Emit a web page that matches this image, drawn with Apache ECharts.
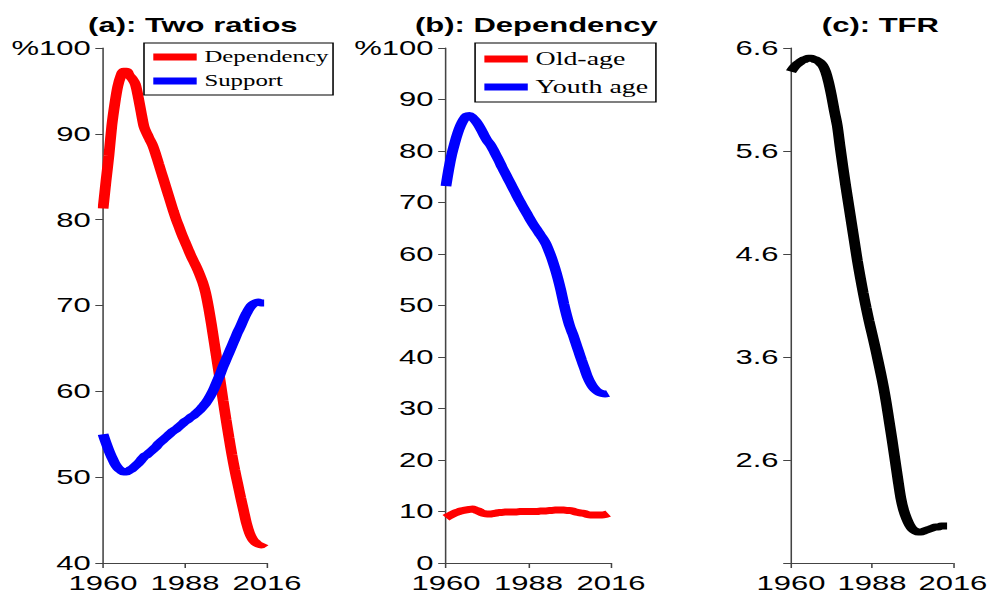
<!DOCTYPE html>
<html>
<head>
<meta charset="utf-8">
<script src="https://cdn.jsdelivr.net/npm/echarts@6/dist/echarts.min.js"></script>
<style>
  html, body { margin: 0; padding: 0; background: #fff; overflow: hidden; }
  /* the original figure is stretched horizontally, so draw narrow and stretch */
  #chart { width: 640px; height: 596px; transform: scaleX(1.55); transform-origin: 0 0; }
</style>
</head>
<body>
<div id="chart"></div>
<script>
const years = [
  1960, 1961, 1962, 1963, 1964, 1965, 1966, 1967, 1968, 1969,
  1970, 1971, 1972, 1973, 1974, 1975, 1976, 1977, 1978, 1979,
  1980, 1981, 1982, 1983, 1984, 1985, 1986, 1987, 1988, 1989,
  1990, 1991, 1992, 1993, 1994, 1995, 1996, 1997, 1998, 1999,
  2000, 2001, 2002, 2003, 2004, 2005, 2006, 2007, 2008, 2009,
  2010, 2011, 2012, 2013, 2014, 2015
]

// (a) total dependency ratio and support ratio, %
const dependency = [
  81.3, 84.5, 87.5, 91.0, 93.5, 95.5, 96.7, 97.3, 97.3, 96.8,
  96.4, 95.8, 94.3, 92.5, 90.8, 90.0, 89.3, 88.6, 87.6, 86.5,
  85.4, 84.3, 83.2, 82.1, 81.0, 80.0, 79.1, 78.2, 77.4, 76.6,
  75.8, 75.1, 74.4, 73.6, 72.7, 71.5, 69.8, 67.8, 65.6, 63.4,
  61.2, 58.9, 56.7, 54.6, 52.6, 50.8, 49.2, 47.6, 46.1, 44.6,
  43.5, 42.8, 42.4, 42.2, 42.1, 42.3
]
const support = [
  55.0, 54.0, 53.1, 52.3, 51.6, 51.1, 50.8, 50.6, 50.6, 50.8,
  51.0, 51.3, 51.6, 52.0, 52.4, 52.6, 52.9, 53.2, 53.5, 53.9,
  54.2, 54.5, 54.8, 55.1, 55.4, 55.6, 55.9, 56.2, 56.5, 56.7,
  57.0, 57.2, 57.5, 57.8, 58.2, 58.6, 59.1, 59.7, 60.4, 61.2,
  62.0, 62.9, 63.7, 64.5, 65.3, 66.1, 66.9, 67.6, 68.4, 69.1,
  69.7, 70.1, 70.3, 70.4, 70.3, 70.3
]

// (b) old-age and youth dependency, %
const oldAge = [
  8.8, 9.1, 9.4, 9.7, 9.9, 10.1, 10.2, 10.3, 10.4, 10.5,
  10.3, 10.1, 9.8, 9.6, 9.5, 9.5, 9.6, 9.7, 9.8, 9.8,
  9.9, 9.9, 9.9, 9.9, 9.9, 10.0, 10.0, 10.0, 10.0, 10.0,
  10.0, 10.0, 10.1, 10.1, 10.1, 10.2, 10.2, 10.3, 10.3, 10.3,
  10.3, 10.2, 10.2, 10.1, 9.9, 9.8, 9.7, 9.6, 9.4, 9.3,
  9.3, 9.3, 9.3, 9.3, 9.4, 9.6
]
const youth = [
  73.2, 76.6, 79.4, 81.6, 83.5, 85.0, 86.1, 86.8, 86.9, 86.5,
  85.9, 85.1, 84.1, 83.0, 82.0, 81.3, 80.3, 79.2, 78.1, 76.9,
  75.8, 74.7, 73.6, 72.5, 71.4, 70.3, 69.3, 68.3, 67.3, 66.3,
  65.4, 64.6, 63.7, 62.9, 61.9, 60.5, 59.0, 57.2, 55.2, 52.9,
  50.3, 48.0, 46.0, 44.5, 42.8, 41.1, 39.4, 37.8, 36.2, 35.0,
  34.1, 33.5, 33.1, 32.9, 32.8, 32.9
]

// (c) total fertility rate, 1960-2014
const tfr = [
  6.37, 6.41, 6.44, 6.46, 6.48, 6.49, 6.50, 6.50, 6.49, 6.48,
  6.46, 6.43, 6.37, 6.27, 6.14, 5.99, 5.85, 5.64, 5.44, 5.25,
  5.07, 4.89, 4.71, 4.53, 4.37, 4.22, 4.08, 3.95, 3.83, 3.71,
  3.58, 3.45, 3.31, 3.15, 2.97, 2.79, 2.60, 2.41, 2.23, 2.11,
  2.03, 1.97, 1.93, 1.91, 1.90, 1.90, 1.91, 1.92, 1.93, 1.94,
  1.95, 1.95, 1.96, 1.96, 1.96
]

const xTicks = [1960, 1988, 2016]

const font = 'Liberation Sans, Arial, Helvetica, sans-serif'
const serif = 'Liberation Serif, Times New Roman, serif'

function pairs(vals) {
  return vals.map((v, i) => [years[i], v])
}

function xAxis(gridIndex) {
  return {
    type: 'value',
    gridIndex,
    min: xTicks[0],
    max: xTicks[2],
    interval: xTicks[1] - xTicks[0],
    axisLine: { lineStyle: { color: '#444', width: 1 } },
    axisTick: { length: 5, lineStyle: { color: '#444' } },
    axisLabel: {
      color: '#000', fontSize: 20, fontFamily: font, margin: 10,
      showMinLabel: true, showMaxLabel: true, hideOverlap: false,
      formatter: (v) => String(v),
    },
    splitLine: { show: false },
  }
}

function yAxis(gridIndex, min, max, fmt) {
  return {
    type: 'value',
    gridIndex,
    min,
    max,
    interval: gridIndex === 2 ? 1 : 10,
    axisLine: { show: true, lineStyle: { color: '#444', width: 1 } },
    axisTick: { show: true, length: 5, lineStyle: { color: '#444' } },
    axisLabel: { color: '#000', fontSize: 20, fontFamily: font, margin: 8, formatter: fmt, showMinLabel: true, showMaxLabel: true },
    splitLine: { show: false },
  }
}

const pct = (v) => (v === 100 ? '%100' : String(v))

function legend(names, left, fontSize, gap, pad) {
  return {
    data: names,
    orient: 'vertical',
    left,
    top: 43,
    icon: 'rect',
    itemWidth: 28,
    itemHeight: 7,
    itemGap: gap,
    itemTextGap: 3,
    padding: pad,
    borderColor: '#000',
    borderWidth: 1,
    backgroundColor: '#fff',
    selectedMode: false,
    textStyle: { color: '#000', fontFamily: serif, fontSize },
  }
}

function line(name, data, color, xi, width) {
  return {
    name,
    type: 'line',
    xAxisIndex: xi,
    yAxisIndex: xi,
    data: pairs(data),
    smooth: 0.3,
    showSymbol: false,
    lineStyle: { color, width },
    itemStyle: { color },
    z: 3,
  }
}

const chart = echarts.init(document.getElementById('chart'), null, { renderer: 'svg' })

chart.setOption({
  animation: false,
  title: [
    { text: '(a): Two ratios', left: 119.4, top: 10, textAlign: 'center' },
    { text: '(b): Dependency', left: 341, top: 10, textAlign: 'center' },
    { text: '(c): TFR', left: 563, top: 10, textAlign: 'center' },
  ].map((t) => ({ ...t, textStyle: { fontFamily: font, fontSize: 20, fontWeight: 'bold', color: '#000' } })),
  legend: [
    legend(['Dependency', 'Support'], 92.9, 16, 8, [6, 3, 6, 6]),
    legend(['Old-age', 'Youth age'], 306.5, 18, 10, [7, 5, 6, 6]),
  ],
  grid: [
    { left: 66.5, top: 48, width: 105.8, height: 515 },
    { left: 287.7, top: 48, width: 106.5, height: 515 },
    { left: 510.3, top: 48, width: 105.8, height: 515 },
  ],
  xAxis: [xAxis(0), xAxis(1), xAxis(2)],
  yAxis: [
    yAxis(0, 40, 100, pct),
    yAxis(1, 0, 100, pct),
    yAxis(2, 1.6, 6.6, (v) => (Math.abs(v - 1.6) < 0.01 ? '' : v.toFixed(1))),
  ],
  series: [
    line('Dependency', dependency, '#ff0000', 0, 7),
    line('Support', support, '#0000ff', 0, 7),
    line('Old-age', oldAge, '#ff0000', 1, 7),
    line('Youth age', youth, '#0000ff', 1, 7),
    line('TFR', tfr, '#000000', 2, 7),
  ],
})
</script>
</body>
</html>
